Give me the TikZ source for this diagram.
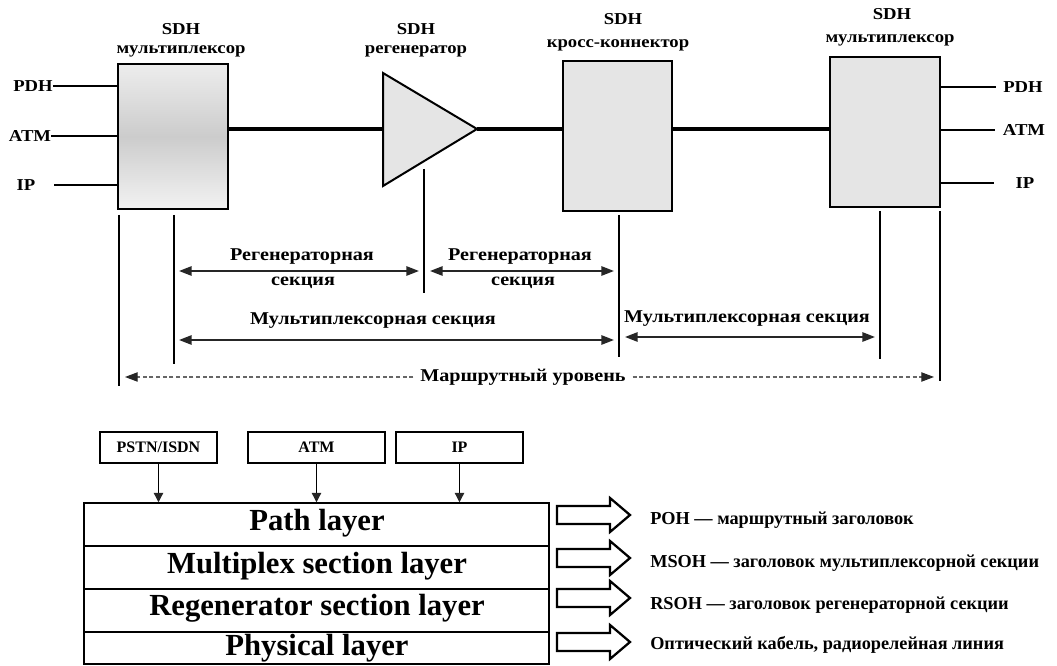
\documentclass[tikz,border=0pt]{standalone}
\usepackage{fontspec}
\setmainfont{Liberation Serif}
\newfontfamily\widefont[FakeStretch=1.12]{Liberation Serif}
\usetikzlibrary{arrows.meta,fit}
\begin{document}
\begin{tikzpicture}[x=0.75pt,y=-0.75pt,
  dev/.style={draw=black, line width=1.5pt, inner sep=0pt, fill=gray!20, line join=miter},
  conn/.style={line width=1.4pt},
  sig/.style={line width=3.6pt},
  vline/.style={line width=2pt},
  secarr/.style={line width=1.4pt, draw=black!85,
    {Triangle[length=9.5pt,width=7pt]}-{Triangle[length=9.5pt,width=7pt]}},
  routearr/.style={line width=0.8pt, densely dashed, draw=black!60,
    -{Triangle[length=9.5pt,width=7pt,color=black!85]}},
  downarr/.style={line width=0.9pt, -{Triangle[length=7pt,width=7pt,color=black!85]}},
  lbl/.style={font=\widefont\bfseries\fontsize{12.5}{14}\selectfont, inner sep=0pt},
  sec/.style={font=\widefont\bfseries\fontsize{13.5}{15}\selectfont, inner sep=0pt},
  sbox/.style={draw, line width=1.1pt, inner sep=0pt, minimum height=23.25pt,
    font=\bfseries\fontsize{12}{14}\selectfont},
  layer/.style={draw, line width=1.1pt, inner sep=0pt},
  ltxt/.style={font=\bfseries\fontsize{23}{26}\selectfont, inner sep=0pt},
  note/.style={font=\bfseries\fontsize{13.7}{16}\selectfont, inner sep=0pt, anchor=west},
  blkarrow/.pic={\draw[line width=1.7pt, fill=white, line join=miter]
    (0,-9) -- (53,-9) -- (53,-17) -- (73,0) -- (53,17) -- (53,9) -- (0,9) -- cycle;}
]
\useasboundingbox (0,0) rectangle (1057,666);

% ---------- devices ----------
\node[dev, fit={(118,64)(228,209)}, top color=gray!14, bottom color=gray!10, middle color=gray!40] (mux1) {};
\node[dev, fit={(563,61)(672,211)}] (cross) {};
\node[dev, fit={(830,57)(940,207)}] (mux2) {};
\coordinate (rt) at (383,73);
\coordinate (rb) at (383,186);
\coordinate (ra) at (477,129);
\draw[dev] (rt) -- (ra) -- (rb) -- cycle;

% ---------- signal line ----------
\draw[sig] (mux1.east |- ra) -- (rt |- ra);
\draw[sig] (ra) -- (ra -| cross.west);
\draw[sig] (cross.east |- ra) -- (ra -| mux2.west);

% ---------- titles ----------
\node[lbl] (sdh1) at (181,29) {SDH};
\node[lbl] (name1) at (181,51) {мультиплексор};
\node[lbl] (sdh2) at (416,29) {SDH};
\node[lbl] (name2) at (416,51) {регенератор};
\node[lbl] (sdh3) at (623,19) {SDH};
\node[lbl] (name3) at (618,45) {кросс-коннектор};
\node[lbl] (sdh4) at (892,14) {SDH};
\node[lbl] (name4) at (890,40) {мультиплексор};

% ---------- tributaries ----------
\node[lbl] (pdhL) at (33,86) {PDH};
\node[lbl] (atmL) at (30,136) {ATM};
\node[lbl] (ipL) at (26,185) {IP};
\coordinate (ipS) at (54,185);
\draw[conn] (pdhL.east) -- (pdhL.east -| mux1.west);
\draw[conn] (atmL.east) -- (atmL.east -| mux1.west);
\draw[conn] (ipS) -- (ipS -| mux1.west);

\node[lbl] (pdhR) at (1023,87) {PDH};
\node[lbl] (atmR) at (1024,130) {ATM};
\node[lbl] (ipR) at (1025,183) {IP};
\coordinate (pdhE) at (996,87);
\coordinate (atmE) at (995,130);
\coordinate (ipE) at (994,183);
\draw[conn] (mux2.east |- pdhE) -- (pdhE);
\draw[conn] (mux2.east |- atmE) -- (atmE);
\draw[conn] (mux2.east |- ipE) -- (ipE);

% ---------- section markers ----------
\coordinate (vA1) at (119,215); \coordinate (vA2) at (119,386);
\coordinate (vB1) at (174,215); \coordinate (vB2) at (174,364);
\coordinate (vC1) at (424,169); \coordinate (vC2) at (424,293);
\coordinate (vD1) at (619,215); \coordinate (vD2) at (619,357);
\coordinate (vE1) at (880,211); \coordinate (vE2) at (880,359);
\coordinate (vF1) at (940,211); \coordinate (vF2) at (940,381);
\foreach \v in {A,B,C,D,E,F}{\draw[vline] (v\v1) -- (v\v2);}

% regenerator sections
\coordinate (r1a) at (179,271); \coordinate (r1b) at (419,271);
\coordinate (r2a) at (430,271); \coordinate (r2b) at (614,271);
\draw[secarr] (r1a) -- (r1b);
\draw[secarr] (r2a) -- (r2b);
\node[sec] (rs1a) at (302,257) {Регенераторная};
\node[sec] (rs1b) at (303,283) {секция};
\node[sec] (rs2a) at (520,257) {Регенераторная};
\node[sec] (rs2b) at (523,283) {секция};

% multiplex sections
\coordinate (m1a) at (179,340); \coordinate (m1b) at (614,340);
\coordinate (m2a) at (625,337); \coordinate (m2b) at (875,337);
\draw[secarr] (m1a) -- (m1b);
\draw[secarr] (m2a) -- (m2b);
\node[sec] (ms1) at (373,321) {Мультиплексорная секция};
\node[sec] (ms2) at (747,319) {Мультиплексорная секция};

% path level
\node[sec] (route) at (523,377) {Маршрутный уровень};
\coordinate (pa) at (125,377); \coordinate (pb) at (934,377);
\draw[routearr] ([xshift=-5pt]route.west) -- (pa);
\draw[routearr] ([xshift=5pt]route.east) -- (pb);

% ---------- layer model ----------
\node[sbox, minimum width=87.75pt] (pstn) at (158.5,447.5) {PSTN/ISDN};
\node[sbox, minimum width=102.75pt] (atmB) at (316.5,447.5) {ATM};
\node[sbox, minimum width=95.25pt] (ipB) at (459.5,447.5) {IP};

\node[layer, fit={(84,503)(549,546)}] (lpath) {};
\node[layer, fit={(84,546)(549,589)}] (lmux) {};
\node[layer, fit={(84,589)(549,632)}] (lreg) {};
\node[layer, fit={(84,632)(549,664)}] (lphy) {};
\node[ltxt] (tpath) at (317,523) {Path layer};
\node[ltxt] (tmux) at (317,566) {Multiplex section layer};
\node[ltxt] (treg) at (317,608) {Regenerator section layer};
\node[ltxt] (tphy) at (317,648) {Physical layer};

\draw[downarr] (pstn.south) -- (pstn.south |- lpath.north);
\draw[downarr] (atmB.south) -- (atmB.south |- lpath.north);
\draw[downarr] (ipB.south) -- (ipB.south |- lpath.north);

\pic at (557,515) {blkarrow};
\pic at (557,558) {blkarrow};
\pic at (557,598) {blkarrow};
\pic at (557,642) {blkarrow};

\node[note] (poh) at (650,520) {POH — маршрутный заголовок};
\node[note] (msoh) at (650,563) {MSOH — заголовок мультиплексорной секции};
\node[note] (rsoh) at (650,605) {RSOH — заголовок регенераторной секции};
\node[note] (opt) at (650,645) {Оптический кабель, радиорелейная линия};
\end{tikzpicture}
\end{document}
